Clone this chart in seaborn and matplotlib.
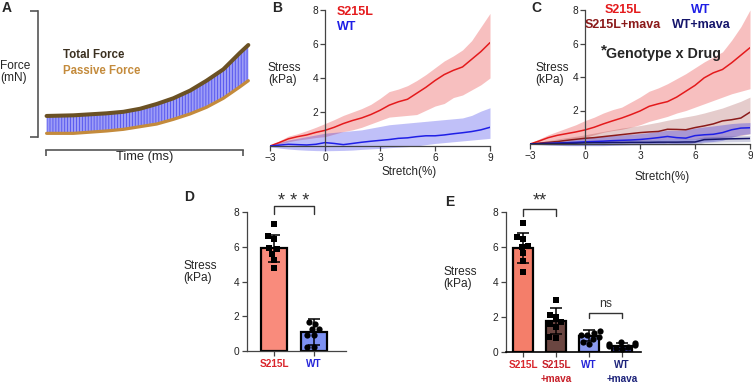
import numpy as np
import pandas as pd
import matplotlib
matplotlib.use('Agg')
import matplotlib.pyplot as plt
import seaborn as sns

sns.set_style('ticks')
plt.rcParams['font.family'] = ['Liberation Sans', 'DejaVu Sans']
plt.rcParams['hatch.linewidth'] = 0.8

W, H = 753, 385

# ---- panel A (schematic) ----
a_time = [0.003, 0.139, 0.308, 0.393, 0.477, 0.562, 0.646, 0.731, 0.815, 0.9, 0.985, 1.027]
a_total = [0.167, 0.172, 0.188, 0.2, 0.224, 0.262, 0.307, 0.368, 0.447, 0.537, 0.669, 0.73]
a_passive = [0.029, 0.029, 0.048, 0.061, 0.082, 0.103, 0.14, 0.183, 0.236, 0.307, 0.399, 0.447]

# ---- panels B, C (stress vs stretch) ----
stretch = [-3, -2.5, -2, -1.5, -1, -0.5, 0, 0.5, 1, 1.5, 2, 2.5, 3,
           3.5, 4, 4.5, 5, 5.5, 6, 6.5, 7, 7.5, 8, 8.5, 9]

b_s215l = [0, 0.2, 0.42, 0.55, 0.65, 0.8, 0.92, 1.1, 1.32, 1.5, 1.65, 1.85, 2.1,
           2.4, 2.6, 2.75, 3.1, 3.45, 3.85, 4.2, 4.45, 4.65, 5.1, 5.55, 6.08]
b_s215l_hi = [0.05, 0.3, 0.58, 0.72, 0.9, 1.1, 1.32, 1.55, 1.8, 2.0, 2.2, 2.45, 2.8,
              3.2, 3.35, 3.55, 3.85, 4.2, 4.6, 5.0, 5.3, 5.65, 6.2, 7.0, 7.8]
b_s215l_lo = [0, 0.1, 0.25, 0.35, 0.42, 0.5, 0.55, 0.7, 0.85, 0.95, 1.1, 1.3, 1.5,
              1.7, 1.75, 1.8, 1.85, 2.1, 2.35, 2.5, 2.85, 3.0, 3.3, 3.6, 4.0]
b_wt = [0, 0.05, 0.1, 0.08, 0.06, 0.1, 0.2, 0.15, 0.08, 0.15, 0.22, 0.28, 0.33,
        0.38, 0.45, 0.48, 0.55, 0.6, 0.6, 0.65, 0.72, 0.78, 0.85, 0.95, 1.1]
b_wt_hi = [0.05, 0.2, 0.35, 0.45, 0.55, 0.65, 0.75, 0.8, 0.85, 0.9, 0.95, 1.05, 1.15,
           1.25, 1.3, 1.35, 1.4, 1.45, 1.5, 1.55, 1.6, 1.65, 1.8, 2.05, 2.25]
b_wt_lo = [-0.05, -0.12, -0.18, -0.22, -0.25, -0.27, -0.28, -0.27, -0.26, -0.24, -0.2, -0.17, -0.14,
           -0.1, -0.07, -0.04, 0.0, 0.08, 0.15, 0.2, 0.25, 0.3, 0.35, 0.4, 0.45]

c_s215l = [0, 0.18, 0.38, 0.52, 0.62, 0.72, 0.84, 1.0, 1.2, 1.38, 1.55, 1.75, 1.97,
           2.25, 2.4, 2.53, 2.8, 3.15, 3.5, 3.95, 4.25, 4.45, 4.85, 5.3, 5.75]
c_s215l_hi = [0.03, 0.3, 0.55, 0.75, 0.95, 1.15, 1.4, 1.6, 1.85, 2.05, 2.2, 2.5, 2.8,
              3.15, 3.35, 3.6, 3.9, 4.2, 4.55, 4.9, 5.2, 5.5, 6.2, 7.0, 8.0]
c_s215l_lo = [0, 0.08, 0.18, 0.25, 0.3, 0.35, 0.4, 0.55, 0.7, 0.8, 0.88, 1.0, 1.15,
              1.35, 1.5, 1.65, 1.85, 2.0, 2.2, 2.4, 2.6, 2.8, 3.0, 3.15, 3.3]
c_mava = [0, 0.05, 0.1, 0.15, 0.22, 0.28, 0.34, 0.38, 0.44, 0.5, 0.56, 0.62, 0.68,
          0.72, 0.75, 0.88, 0.87, 0.85, 0.98, 1.08, 1.2, 1.38, 1.45, 1.55, 1.9]
c_mava_hi = [0, 0.1, 0.2, 0.3, 0.38, 0.46, 0.55, 0.65, 0.75, 0.85, 0.95, 1.02, 1.1,
             1.2, 1.3, 1.42, 1.52, 1.62, 1.72, 1.85, 2.0, 2.15, 2.35, 2.55, 2.8]
c_mava_lo = [0, 0.0, 0.02, 0.04, 0.06, 0.08, 0.1, 0.12, 0.14, 0.16, 0.18, 0.2, 0.22,
             0.24, 0.26, 0.28, 0.28, 0.28, 0.3, 0.33, 0.36, 0.4, 0.44, 0.5, 0.6]
c_wt = [0, 0.02, 0.04, 0.06, 0.08, 0.1, 0.13, 0.15, 0.17, 0.2, 0.22, 0.24, 0.27,
        0.32, 0.38, 0.45, 0.38, 0.35, 0.5, 0.55, 0.58, 0.68, 0.85, 0.95, 0.97]
c_wt_hi = [0.02, 0.08, 0.14, 0.2, 0.26, 0.32, 0.38, 0.42, 0.46, 0.5, 0.54, 0.58, 0.62,
           0.68, 0.75, 0.82, 0.82, 0.85, 0.95, 1.02, 1.08, 1.15, 1.22, 1.26, 1.28]
c_wt_lo = [-0.02, -0.04, -0.06, -0.08, -0.1, -0.1, -0.1, -0.1, -0.1, -0.08, -0.06, -0.05, -0.04,
           -0.02, 0.0, 0.05, 0.0, -0.02, 0.08, 0.12, 0.15, 0.22, 0.4, 0.55, 0.62]
c_wtm = [0, 0.01, 0.02, 0.03, 0.04, 0.05, 0.07, 0.08, 0.08, 0.09, 0.09, 0.1, 0.1,
         0.1, 0.11, 0.11, 0.11, 0.12, 0.12, 0.26, 0.28, 0.3, 0.31, 0.32, 0.33]
c_wtm_hi = [0.01, 0.05, 0.09, 0.12, 0.15, 0.17, 0.19, 0.2, 0.21, 0.22, 0.23, 0.24, 0.25,
            0.26, 0.27, 0.28, 0.29, 0.3, 0.32, 0.42, 0.45, 0.47, 0.48, 0.5, 0.52]
c_wtm_lo = [-0.01, -0.03, -0.05, -0.06, -0.07, -0.08, -0.07, -0.07, -0.07, -0.06, -0.06, -0.05, -0.05,
            -0.05, -0.05, -0.05, -0.05, -0.05, -0.05, 0.08, 0.1, 0.12, 0.13, 0.14, 0.15]

# ---- panel D ----
d_groups = ['S215L', 'WT']
d_mean = [5.9, 1.12]
d_sd = [0.8, 0.75]
d_s215l_pts = [7.3, 6.6, 6.45, 5.9, 5.85, 5.6, 5.25, 4.75]
d_wt_pts = [1.65, 1.57, 1.25, 1.25, 0.9, 0.9, 0.23, 0.23]

# ---- panel E ----
e_groups = ['S215L', 'S215L\n+mava', 'WT', 'WT\n+mava']
e_mean = [5.95, 1.78, 0.93, 0.35]
e_sd = [0.85, 0.75, 0.3, 0.15]
e_s215l_pts = [7.35, 6.55, 6.45, 6.05, 6.0, 5.65, 5.2, 4.6]
e_mava_pts = [2.95, 2.1, 2.0, 1.7, 1.6, 1.45, 0.85, 0.8]
e_wt_pts = [1.2, 1.1, 1.0, 0.95, 0.85, 0.75, 0.6, 0.45]
e_wtm_pts = [0.55, 0.5, 0.45, 0.4, 0.35, 0.3, 0.25, 0.2]

RED = '#e41a1c'
DRED = '#8b1a1a'
BLUE = '#1f1fe6'
NAVY = '#15156b'
AX = '#444444'


def px(x0, y0, x1, y1):
    return [x0 / W, 1 - y1 / H, (x1 - x0) / W, (y1 - y0) / H]


fig = plt.figure(figsize=(W / 100, H / 100), dpi=100)


def ftext(x, y, s, **kw):
    fig.text(x / W, 1 - y / H, s, **kw)


# panel letters
for lab, x, y in [('A', 2, 8), ('B', 272, 8), ('C', 531, 8), ('D', 184, 197), ('E', 445, 202)]:
    ftext(x, y, lab, fontsize=10, fontweight='bold', va='center', ha='left')

# ---------------- A ----------------
axA = fig.add_axes(px(46, 11, 243, 137))
axA.fill_between(a_time, a_passive, a_total, facecolor='white', edgecolor='#5c5cf0',
                 hatch='|' * 11, lw=0, clip_on=False, zorder=2)
axA.plot(a_time, a_total, color='#6b5124', lw=2.9, clip_on=False, zorder=3)
axA.plot(a_time, a_passive, color='#c48b3c', lw=2.3, clip_on=False, zorder=3)
axA.set_xlim(0, 1)
axA.set_ylim(0, 1)
sns.despine(ax=axA)
axA.spines['left'].set_position(('outward', 6))
axA.spines['bottom'].set_position(('outward', 9))
for s in ['left', 'bottom']:
    axA.spines[s].set_color('#555555')
    axA.spines[s].set_linewidth(1.2)
axA.set_xticks([0, 1])
axA.set_yticks([0, 1])
axA.tick_params(length=6, width=1.2, color='#555555', labelleft=False, labelbottom=False)
axA.xaxis.set_tick_params(length=4.5)
ftext(63, 55, 'Total Force', fontsize=8.3, fontweight='bold', color='#3b3020', va='center')
ftext(63, 71, 'Passive Force', fontsize=8.3, fontweight='bold', color='#c48b3c', va='center')
ftext(0, 72, 'Force\n(mN)', fontsize=8.6, va='center', ha='left', linespacing=1.1)
ftext(145, 157, 'Time (ms)', fontsize=9.3, va='center', ha='center')


def style_line_axes(ax):
    ax.set_xlim(-3, 9)
    ax.set_ylim(-0.5, 8)
    sns.despine(ax=ax)
    ax.spines['left'].set_position(('data', 0))
    ax.spines['bottom'].set_position(('data', 0))
    ax.spines['left'].set_bounds(0, 8)
    for s in ['left', 'bottom']:
        ax.spines[s].set_color(AX)
        ax.spines[s].set_linewidth(0.9)
    ax.set_xticks([-3, 0, 3, 6, 9])
    ax.set_yticks([2, 4, 6, 8])
    ax.tick_params(length=3.5, width=0.9, color=AX, labelsize=7.3, pad=1.5, labelcolor='#222222')
    ax.set_xlabel('')
    ax.set_ylabel('')


def band_line(ax, y, lo, hi, color, alpha):
    ax.fill_between(stretch, lo, hi, color=color, alpha=alpha, lw=0)
    sns.lineplot(x=stretch, y=y, color=color, lw=1.1, ax=ax)


# ---------------- B ----------------
axB = fig.add_axes(px(270, 10, 490, 146 + 0.5 * 17))
band_line(axB, b_s215l, b_s215l_lo, b_s215l_hi, RED, 0.28)
band_line(axB, b_wt, b_wt_lo, b_wt_hi, BLUE, 0.28)
style_line_axes(axB)
ftext(268, 74, 'Stress\n(kPa)', fontsize=8.6, va='center', ha='left', linespacing=1.1)
ftext(409, 172, 'Stretch(%)', fontsize=8.4, va='center', ha='center')
ftext(337, 12, 'S215L', fontsize=9, fontweight='bold', color=RED, va='center')
ftext(337, 27, 'WT', fontsize=9, fontweight='bold', color=BLUE, va='center')

# ---------------- C ----------------
axC = fig.add_axes(px(530, 10, 750, 144 + 0.5 * 16.75))
band_line(axC, c_s215l, c_s215l_lo, c_s215l_hi, RED, 0.28)
band_line(axC, c_mava, c_mava_lo, c_mava_hi, DRED, 0.22)
band_line(axC, c_wt, c_wt_lo, c_wt_hi, BLUE, 0.3)
band_line(axC, c_wtm, c_wtm_lo, c_wtm_hi, NAVY, 0.2)
style_line_axes(axC)
ftext(535, 74, 'Stress\n(kPa)', fontsize=8.6, va='center', ha='left', linespacing=1.1)
ftext(662, 177, 'Stretch(%)', fontsize=8.4, va='center', ha='center')
ftext(623, 10, 'S215L', fontsize=9, fontweight='bold', color=RED, va='center', ha='center')
ftext(623, 25, 'S215L+mava', fontsize=9, fontweight='bold', color=DRED, va='center', ha='center')
ftext(701, 10, 'WT', fontsize=9, fontweight='bold', color=BLUE, va='center', ha='center')
ftext(701, 25, 'WT+mava', fontsize=9, fontweight='bold', color=NAVY, va='center', ha='center')
ftext(604, 50, '*', fontsize=11, fontweight='bold', va='center', ha='center')
ftext(664, 54, 'Genotype x Drug', fontsize=10.3, fontweight='bold', va='center', ha='center')


def bar_panel(ax, groups, means, sds, pts_list, markers, colors, width):
    sns.barplot(x=groups, y=means, hue=groups, palette=colors, legend=False, width=width,
                saturation=1, edgecolor='black', linewidth=1.6, errorbar=None, ax=ax, zorder=2)
    ax.errorbar(np.arange(len(groups)), means, yerr=sds, fmt='none', ecolor='black',
                elinewidth=1.1, capsize=4.5, capthick=1.1, zorder=4)
    for g, pts, m in zip(groups, pts_list, markers):
        df = pd.DataFrame({'group': [g] * len(pts), 'value': pts})
        sns.swarmplot(data=df, x='group', y='value', order=groups, marker=m, color='black',
                      size=4.5, ax=ax, zorder=5)
    sns.despine(ax=ax)
    ax.set_ylim(0, 8)
    ax.set_yticks([0, 2, 4, 6, 8])
    for s in ['left', 'bottom']:
        ax.spines[s].set_color(AX)
        ax.spines[s].set_linewidth(0.9)
    ax.tick_params(length=3.5, width=0.9, color=AX, labelsize=7.3, pad=2, labelcolor='#222222')
    ax.set_xlabel('')
    ax.set_ylabel('')


def bracket(ax, x0, x1, ytop, ydrop, text, ytext, fs):
    ax.plot([x0, x0, x1, x1], [ydrop, ytop, ytop, ydrop], color='#333333', lw=1.0, clip_on=False)
    ax.text((x0 + x1) / 2, ytext, text, ha='center', va='center', fontsize=fs, color='#333333')


# ---------------- D ----------------
axD = fig.add_axes(px(247, 212, 346, 351))
bar_panel(axD, d_groups, d_mean, d_sd, [d_s215l_pts, d_wt_pts], ['s', 'o'],
          ['#f98b7c', '#7d91f2'], 0.65)
axD.set_xlim(-0.675, 1.8)
axD.set_xticks([0, 1])
axD.set_xticklabels(d_groups, fontsize=7.2, fontweight='bold')
for t, c in zip(axD.get_xticklabels(), ['#d9262c', '#2626d9']):
    t.set_color(c)
bracket(axD, 0, 1, 8.35, 7.9, '* * *', 8.6, 13)
ftext(183, 272, 'Stress\n(kPa)', fontsize=8.6, va='center', ha='left', linespacing=1.1)

# ---------------- E ----------------
axE = fig.add_axes(px(506, 212, 642, 352))
bar_panel(axE, e_groups, e_mean, e_sd, [e_s215l_pts, e_mava_pts, e_wt_pts, e_wtm_pts],
          ['s', 's', 'o', 'o'], ['#f47e6a', '#6b4641', '#8a9af0', '#3a3fa0'], 0.62)
axE.set_xlim(-0.515, 3.606)
axE.set_xticks([0, 1, 2, 3])
axE.set_xticklabels(e_groups, fontsize=7.2, fontweight='bold', linespacing=1.6)
for t, c in zip(axE.get_xticklabels(), ['#d9262c', '#c8202a', '#2626d9', '#1d237a']):
    t.set_color(c)
axE.spines['bottom'].set_color('black')
axE.spines['bottom'].set_linewidth(1.2)
axE.spines['bottom'].set_linestyle((0, (1, 1)))
bracket(axE, 0, 1, 8.2, 7.8, '**', 8.65, 13)
bracket(axE, 2, 3, 2.23, 1.94, 'ns', 2.75, 8.8)
ftext(443, 278, 'Stress\n(kPa)', fontsize=8.6, va='center', ha='left', linespacing=1.1)

fig.savefig('out.png', dpi=100)
